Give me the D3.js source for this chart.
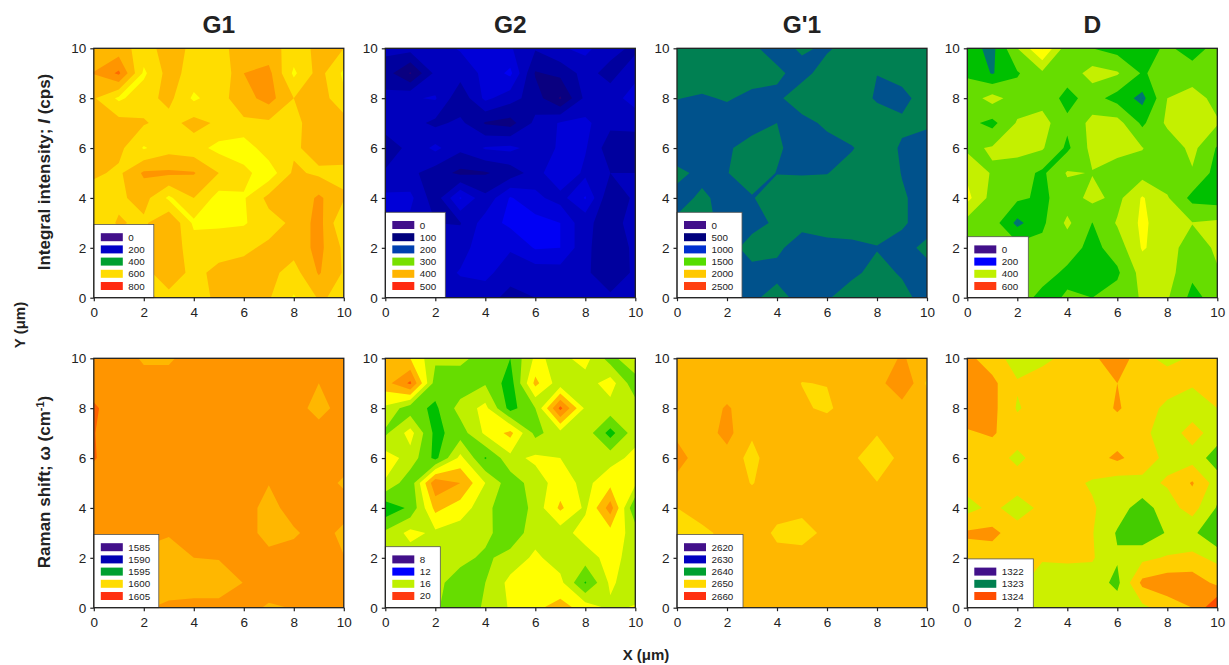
<!DOCTYPE html>
<html>
<head>
<meta charset="utf-8" />
<script src="https://cdn.jsdelivr.net/npm/d3@7"></script>
<style>
  body { margin: 0; background: #fff; }
  text { font-family: "Liberation Sans", Arial, sans-serif; fill: #222; }
</style>
</head>
<body>
<div id="wrapper"></div>
<script>
// Data: 11 x 11 grids, rows from y = 10 down to y = 0, columns x = 0..10
const intensityG1 = [
  [670,670,630,670,640,630,680,670,630,660,650],
  [702,760,590,670,630,600,700,715,590,670,590],
  [655,590,630,665,590,630,680,720,650,680,610],
  [655,670,655,630,670,640,640,640,635,680,675],
  [680,665,595,630,620,585,570,630,640,675,670],
  [660,640,708,710,704,650,615,570,660,640,640],
  [620,640,670,590,650,580,595,665,655,710,655],
  [620,655,640,700,590,590,595,630,660,720,600],
  [620,630,640,680,625,635,640,660,670,715,640],
  [640,640,640,670,640,660,670,665,630,705,645],
  [640,640,660,640,640,655,665,655,595,655,640],
];
const intensityG2 = [
  [105,108,112,122,124,122,102,118,125,108,95],
  [90,58,105,108,125,145,78,85,108,92,115],
  [105,118,122,85,125,108,90,58,105,112,128],
  [108,108,95,105,78,72,105,122,125,105,108],
  [90,105,125,105,122,125,112,122,122,88,85],
  [102,105,90,75,78,88,110,140,115,100,100],
  [125,125,88,142,105,142,125,112,142,82,105],
  [115,115,100,99,130,145,148,140,105,90,110],
  [110,110,110,110,135,122,142,140,105,85,105],
  [105,105,108,122,125,110,108,110,105,82,105],
  [105,105,105,108,110,92,100,105,108,105,100],
];
const intensityG1p = [
  [780,790,780,720,650,720,680,760,780,790,780],
  [780,790,780,770,725,650,770,780,702,760,780],
  [705,680,715,660,670,790,790,790,680,650,780],
  [620,620,620,640,700,650,730,790,790,730,720],
  [620,620,680,760,720,640,640,690,790,680,640],
  [730,670,695,770,695,690,695,760,790,695,640],
  [660,720,660,690,780,790,790,790,790,715,650],
  [720,730,670,660,720,730,770,780,750,715,650],
  [680,660,650,750,720,650,650,660,695,660,730],
  [660,660,650,660,670,650,650,680,730,690,660],
  [660,660,660,680,740,660,690,750,770,730,660],
];
const intensityD = [
  [320,286,400,505,370,350,330,325,360,325,370],
  [345,296,345,390,370,420,405,345,370,375,395],
  [370,420,375,380,335,370,330,284,400,420,385],
  [365,335,405,420,360,415,420,340,410,425,405],
  [390,405,415,405,340,415,420,402,365,415,345],
  [440,395,375,340,405,398,370,380,370,395,330],
  [465,380,360,340,375,415,385,455,405,335,325],
  [380,375,286,340,410,349,405,460,420,402,410],
  [370,370,370,365,372,335,372,455,425,370,410],
  [370,370,405,370,340,320,342,420,420,360,395],
  [370,370,375,335,355,350,370,405,405,335,370],
];
const shiftG1 = [
  [1603.2,1603.5,1601.6,1601.6,1603.2,1603.2,1603.2,1603.2,1603.2,1603.2,1603.2],
  [1603.2,1603.2,1603.1,1603.1,1603.2,1603.2,1603.2,1603.2,1603.2,1602,1603.2],
  [1604.9,1603,1603.2,1603.2,1603.2,1603.2,1603.2,1603.2,1603.2,1601,1603.2],
  [1604.6,1603,1603.2,1603.2,1603.2,1603.2,1603.2,1603.2,1603.2,1603.2,1603.2],
  [1604.7,1603,1603.2,1603.2,1603.2,1603.2,1603.2,1603.2,1603.2,1603.2,1603.2],
  [1603.2,1603.2,1603.2,1603.2,1603.2,1603.2,1603.2,1602.1,1603.2,1603.2,1601.6],
  [1603.2,1603.2,1603.2,1603.2,1603.2,1603.2,1603.2,1601,1603.2,1603.2,1603.2],
  [1603.2,1603.2,1603.2,1602.2,1603.2,1603.2,1603.2,1601,1601.6,1603.2,1601.3],
  [1601.5,1601.5,1601,1601,1602,1602.1,1603.2,1602.8,1603.2,1603.2,1602.1],
  [1601.5,1601.5,1601,1601,1601,1601,1602.05,1603.2,1603.2,1603.2,1603.2],
  [1602.5,1602.5,1601.8,1602.4,1602.6,1602.6,1602.8,1601.7,1602.1,1603.2,1603.2],
];
const shiftG2 = [
  [19,18,16.2,16.3,15.5,15,17.2,16.7,17.4,15.5,17.2],
  [18.6,20.2,15.5,15.3,15.9,14.5,18.3,16.4,16.5,17.5,15.3],
  [16.8,15.4,14.8,16.4,17.3,14.6,16,20.3,16.8,16.6,16.5],
  [15.8,17.4,14.7,15.5,17.2,18.3,15.7,16.6,16.6,14.6,16.6],
  [17.5,16.6,14.7,17.3,14.9,16.7,17.2,17,16.4,16.6,17.3],
  [16.9,15.3,19.8,19,17,15.4,16.5,17.5,16.7,17.7,17.2],
  [14.3,15.2,18.3,17.5,16.4,15,16.4,18.2,16.8,19.5,15],
  [16.2,17.3,16.8,16.5,16.3,15.3,16.6,16.5,17.5,17.6,16.6],
  [16.5,16.5,16.3,16.3,15.8,16.4,17.2,16.5,16.5,17.4,16.5],
  [16.3,16.3,16.3,15.5,16,17.3,17.5,17.3,14.9,17.2,16.3],
  [16.3,16.3,16.2,15.1,16.2,17.1,17.8,18.4,17.6,16.8,17.1],
];
const shiftG1p = [
  [2653,2653,2653,2653,2653,2653,2653,2653,2653,2654.2,2653],
  [2653,2653,2653,2653,2653,2651.95,2652.07,2653,2653,2656,2651.7],
  [2653,2653,2654.2,2653,2653,2652.33,2651.6,2653.2,2653,2653,2653],
  [2653.5,2653,2654.6,2652.3,2653,2653,2653.6,2653,2652.15,2653,2653],
  [2655,2652.7,2653.3,2651.3,2653.6,2653,2653,2652.45,2650.5,2652.7,2653],
  [2653.3,2653,2653,2651.9,2653,2653,2653,2653,2652.08,2653,2653],
  [2652,2653,2653,2653,2653,2652.53,2653,2653,2653,2653,2653],
  [2651,2651.5,2652.6,2653.5,2651.5,2651.2,2652.53,2653,2653,2653,2653],
  [2651.5,2651.5,2653,2653,2652.8,2652.8,2653,2653,2653,2653,2653],
  [2653,2653,2653,2653,2653,2653,2653,2653,2653,2653,2653],
  [2653,2653,2653,2653,2653,2653,2653,2653,2653,2653,2653],
];
const shiftD = [
  [1323.85,1323.7,1323.5,1323.55,1323.65,1323.75,1323.95,1323.65,1323.55,1323.62,1323.8],
  [1323.9,1323.85,1323.62,1323.7,1323.7,1323.7,1323.8,1323.72,1323.7,1323.62,1323.7],
  [1323.9,1323.86,1323.58,1323.7,1323.7,1323.7,1323.82,1323.7,1323.55,1323.5,1323.6],
  [1323.78,1323.82,1323.7,1323.7,1323.7,1323.7,1323.7,1323.65,1323.5,1323.68,1323.5],
  [1323.7,1323.7,1323.55,1323.7,1323.7,1323.72,1323.84,1323.7,1323.55,1323.52,1323.3],
  [1323.68,1323.7,1323.7,1323.7,1323.65,1323.58,1323.5,1323.55,1323.62,1323.82,1323.5],
  [1323.53,1323.65,1323.5,1323.65,1323.68,1323.62,1323.5,1323.3,1323.52,1323.68,1323.38],
  [1323.83,1323.85,1323.7,1323.7,1323.7,1323.61,1323.38,1323.25,1323.42,1323.45,1323.2],
  [1323.7,1323.7,1323.7,1323.62,1323.63,1323.62,1323.42,1323.55,1323.62,1323.65,1323.55],
  [1323.7,1323.7,1323.65,1323.5,1323.5,1323.5,1323.35,1323.85,1323.92,1323.92,1323.75],
  [1323.7,1323.7,1323.62,1323.45,1323.5,1323.5,1323.5,1323.55,1323.7,1323.8,1324.2],
];

// Contour levels and the colour of each band
const levelsG1 = [0,600,650,700,750];
const bandsG1 = ["#ffff00","#ffdd00","#ffb700","#ff9500","#ff6a00"];
const levelsG2 = [0,60,80,100,120,140];
const bandsG2 = ["#2a0070","#0a0080","#00009e","#0000bd","#0000d8","#0000f5"];
const levelsG1p = [0,700];
const bandsG1p = ["#00528c","#008052"];
const levelsD = [0,285,300,350,400,450,500];
const bandsD = ["#005f80","#007570","#00c000","#66dd00","#c4f000","#ffff00","#ffd800"];
const levelsShiftG1 = [0,1602,1604.5];
const bandsShiftG1 = ["#ffb700","#ff9500","#ff6000"];
const levelsShiftG2 = [0,15,16,17,18,19,20];
const bandsShiftG2 = ["#00c000","#66dd00","#bff000","#ffff00","#ffb800","#ff9500","#ff5a00"];
const levelsShiftG1p = [0,2652,2654];
const bandsShiftG1p = ["#ffdc00","#ffb700","#ff9500"];
const levelsShiftD = [0,1323.4,1323.6,1323.8,1324];
const bandsShiftD = ["#44cc00","#ccf000","#ffcf00","#ff9200","#ff4d00"];

// Legends
const legendG1 = ["0","200","400","600","800"];
const legendColorsG1 = ["#42108a","#0000c8","#00a030","#ffdc00","#ff2a10"];
const legendG2 = ["0","100","200","300","400","500"];
const legendColorsG2 = ["#42108a","#00007d","#0040b0","#78e000","#ffb400","#ff2a10"];
const legendG1p = ["0","500","1000","1500","2000","2500"];
const legendColorsG1p = ["#42108a","#00007d","#0030d0","#55dd00","#ffc800","#ff4010"];
const legendD = ["0","200","400","600"];
const legendColorsD = ["#42108a","#0000ff","#bff000","#ff3a10"];
const legendShiftG1 = ["1585","1590","1595","1600","1605"];
const legendColorsShiftG1 = ["#42108a","#0000b4","#00a030","#ffdc00","#ff3010"];
const legendShiftG2 = ["8","12","16","20"];
const legendColorsShiftG2 = ["#42108a","#0000ff","#bff000","#ff3a10"];
const legendShiftG1p = ["2620","2630","2640","2650","2660"];
const legendColorsShiftG1p = ["#42108a","#0000c0","#00a030","#ffd800","#ff3010"];
const legendShiftD = ["1322","1323","1324"];
const legendColorsShiftD = ["#42108a","#008050","#ff4d00"];

const columnTitles = ["G1","G2","G'1","D"];
const axisTicks = [0,2,4,6,8,10];

const panels = [
  { grid: intensityG1, levels: levelsG1, bands: bandsG1, labels: legendG1, colors: legendColorsG1, col: 0, row: 0, legendWidth: 60 },
  { grid: intensityG2, levels: levelsG2, bands: bandsG2, labels: legendG2, colors: legendColorsG2, col: 1, row: 0, legendWidth: 60 },
  { grid: intensityG1p, levels: levelsG1p, bands: bandsG1p, labels: legendG1p, colors: legendColorsG1p, col: 2, row: 0, legendWidth: 65 },
  { grid: intensityD, levels: levelsD, bands: bandsD, labels: legendD, colors: legendColorsD, col: 3, row: 0, legendWidth: 61 },
  { grid: shiftG1, levels: levelsShiftG1, bands: bandsShiftG1, labels: legendShiftG1, colors: legendColorsShiftG1, col: 0, row: 1, legendWidth: 65 },
  { grid: shiftG2, levels: levelsShiftG2, bands: bandsShiftG2, labels: legendShiftG2, colors: legendColorsShiftG2, col: 1, row: 1, legendWidth: 55 },
  { grid: shiftG1p, levels: levelsShiftG1p, bands: bandsShiftG1p, labels: legendShiftG1p, colors: legendColorsShiftG1p, col: 2, row: 1, legendWidth: 66 },
  { grid: shiftD, levels: levelsShiftD, bands: bandsShiftD, labels: legendShiftD, colors: legendColorsShiftD, col: 3, row: 1, legendWidth: 66 },
];

function drawChart() {
  const dimensions = {
    width: 1229,
    height: 665,
    plotWidth: 250,
    plotHeight: 249.4,
    lefts: [93.8, 385.3, 677, 967.3],
    tops: [48.3, 358.3],
  };

  const wrapper = d3
    .select("#wrapper")
    .append("svg")
    .attr("width", dimensions.width)
    .attr("height", dimensions.height)
    .style("display", "block");

  panels.forEach((panel, i) => drawPanel(wrapper, panel, i, dimensions));

  // Titles
  columnTitles.forEach((title, i) => {
    wrapper
      .append("text")
      .attr("x", dimensions.lefts[i] + 125)
      .attr("y", 33)
      .attr("text-anchor", "middle")
      .style("font-size", "24.5px")
      .style("font-weight", "bold")
      .text(title);
  });

  // Axis titles
  const topLabel = wrapper
    .append("text")
    .attr("transform", "translate(50, 172) rotate(-90)")
    .attr("text-anchor", "middle")
    .style("font-size", "17px")
    .style("font-weight", "bold");
  topLabel.append("tspan").text("Integral intensity; ");
  topLabel.append("tspan").style("font-style", "italic").text("I");
  topLabel.append("tspan").text(" (cps)");

  const bottomLabel = wrapper
    .append("text")
    .attr("transform", "translate(50, 482) rotate(-90)")
    .attr("text-anchor", "middle")
    .style("font-size", "17px")
    .style("font-weight", "bold");
  bottomLabel.append("tspan").text("Raman shift; ω (cm");
  bottomLabel.append("tspan").attr("dy", -6).style("font-size", "11px").text("-1");
  bottomLabel.append("tspan").attr("dy", 6).text(")");

  wrapper
    .append("text")
    .attr("transform", "translate(25, 325) rotate(-90)")
    .attr("text-anchor", "middle")
    .style("font-size", "15px")
    .style("font-weight", "bold")
    .text("Y (μm)");

  wrapper
    .append("text")
    .attr("x", 646)
    .attr("y", 660)
    .attr("text-anchor", "middle")
    .style("font-size", "15px")
    .style("font-weight", "bold")
    .text("X (μm)");
}

function drawPanel(wrapper, panel, index, dimensions) {
  const left = dimensions.lefts[panel.col];
  const top = dimensions.tops[panel.row];

  const xScale = d3.scaleLinear().domain([0, 10]).range([0, dimensions.plotWidth]);
  const yScale = d3.scaleLinear().domain([0, 10]).range([dimensions.plotHeight, 0]);

  const bounds = wrapper.append("g").attr("transform", `translate(${left}, ${top})`);

  const clipId = `clip-${index}`;
  bounds
    .append("clipPath")
    .attr("id", clipId)
    .append("rect")
    .attr("width", dimensions.plotWidth)
    .attr("height", dimensions.plotHeight);

  // d3.contours puts grid values on cell centres, so shift by half a cell
  const contourGenerator = d3
    .contours()
    .size([11, 11])
    .thresholds(panel.levels);

  const path = d3.geoPath(
    d3.geoTransform({
      point(x, y) {
        this.stream.point(xScale(x - 0.5), yScale(10.5 - y));
      },
    })
  );

  bounds
    .append("g")
    .attr("clip-path", `url(#${clipId})`)
    .selectAll("path")
    .data(contourGenerator(panel.grid.flat()))
    .enter()
    .append("path")
    .attr("d", path)
    .attr("fill", (d, i) => panel.bands[i]);

  // Axes
  const xAxis = bounds
    .append("g")
    .attr("transform", `translate(0, ${dimensions.plotHeight})`)
    .call(d3.axisBottom(xScale).tickValues(axisTicks).tickSize(3.5).tickPadding(6));
  const yAxis = bounds
    .append("g")
    .call(d3.axisLeft(yScale).tickValues(axisTicks).tickSize(3.5).tickPadding(4));

  [xAxis, yAxis].forEach((axis) => {
    axis.select(".domain").remove();
    axis.selectAll("line").attr("stroke", "#222").attr("stroke-width", 1.2);
    axis.selectAll("text").style("font-size", "13.5px").attr("fill", "#222");
  });

  // Legend
  const rowHeight = 12.2;
  const legendHeight = rowHeight * (panel.labels.length + 1);
  const legend = bounds
    .append("g")
    .attr("transform", `translate(0, ${dimensions.plotHeight - legendHeight})`);

  legend
    .append("rect")
    .attr("width", panel.legendWidth)
    .attr("height", legendHeight)
    .attr("fill", "#fff")
    .attr("stroke", "#555")
    .attr("stroke-width", 0.8);

  const legendRows = legend
    .selectAll("g")
    .data(panel.labels)
    .enter()
    .append("g")
    .attr("transform", (d, i) => `translate(7, ${12.7 + i * rowHeight})`);

  legendRows
    .append("rect")
    .attr("y", -4)
    .attr("width", 22)
    .attr("height", 8)
    .attr("fill", (d, i) => panel.colors[i]);

  legendRows
    .append("text")
    .attr("x", 27.5)
    .attr("y", 3.5)
    .style("font-size", "9.8px")
    .text((d) => d);

  // Frame
  bounds
    .append("rect")
    .attr("width", dimensions.plotWidth)
    .attr("height", dimensions.plotHeight)
    .attr("fill", "none")
    .attr("stroke", "#222")
    .attr("stroke-width", 1.3);
}

drawChart();
</script>
</body>
</html>
